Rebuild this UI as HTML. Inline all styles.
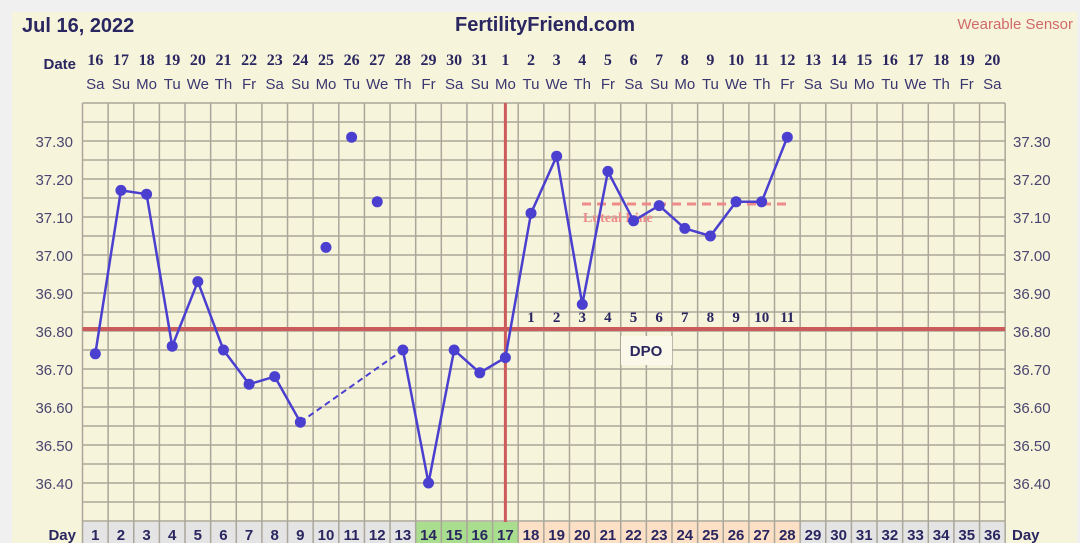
<!DOCTYPE html><html><head><style>body{margin:0;background:#f0f0f0}svg{display:block}</style></head><body>
<svg id="s" width="1080" height="543" xmlns="http://www.w3.org/2000/svg" font-family="Liberation Sans, sans-serif">
<rect x="12" y="12" width="1065" height="531" fill="#f7f4dc"/>
<text x="22" y="32" font-size="20" font-weight="bold" fill="#2a2660">Jul 16, 2022</text>
<text x="545" y="31" font-size="20" font-weight="bold" fill="#2a2660" text-anchor="middle">FertilityFriend.com</text>
<text x="1073" y="29" font-size="15" fill="#d06a6a" text-anchor="end">Wearable Sensor</text>
<text x="76" y="69" font-size="15" font-weight="bold" fill="#2a2660" text-anchor="end">Date</text>
<text x="76" y="540" font-size="15" font-weight="bold" fill="#2a2660" text-anchor="end">Day</text>
<text x="1012" y="540" font-size="15" font-weight="bold" fill="#2a2660">Day</text>
<g id="g"></g>
</svg>
<script>
var g=document.getElementById('g'),h='';
var L=82.5,W=25.63,T=103,R=19;
function cx(d){return L+(d-0.5)*W}
function ty(t){return 141+(37.30-t)*380}
var wd=['Sa','Su','Mo','Tu','We','Th','Fr'];
for(var d=1;d<=36;d++){
 var dt=d<=16?d+15:d-16;
 h+='<text x="'+cx(d)+'" y="65" font-size="16" font-weight="bold" font-family="Liberation Serif, serif" fill="#2a2660" text-anchor="middle">'+dt+'</text>';
 h+='<text x="'+cx(d)+'" y="89" font-size="15" fill="#3a3670" text-anchor="middle">'+wd[(d-1)%7]+'</text>';
 var c=d<=13?'#e4e4e4':d<=17?'#a9de8e':d<=28?'#fbe0c6':'#e4e4e4';
 h+='<rect x="'+(L+(d-1)*W)+'" y="522" width="'+W+'" height="21" fill="'+c+'"/>';
 h+='<text x="'+cx(d)+'" y="540" font-size="15" font-weight="bold" fill="#2a2660" text-anchor="middle">'+d+'</text>';
}
for(var i=0;i<=22;i++){var y=T+i*R;h+='<line x1="'+L+'" x2="'+(L+36*W)+'" y1="'+y+'" y2="'+y+'" stroke="#aaa69a" stroke-width="1.5"/>';}
for(var d=0;d<=36;d++){var x=L+d*W;h+='<line x1="'+x+'" x2="'+x+'" y1="'+T+'" y2="543" stroke="#aaa69a" stroke-width="1.5"/>';}
for(var i=0;i<=9;i++){var t=37.30-i*0.1,y=ty(t)+6;var s=t.toFixed(2);
 h+='<text x="73" y="'+y+'" font-size="15" fill="#4a4670" text-anchor="end">'+s+'</text>';
 h+='<text x="1013" y="'+y+'" font-size="15" fill="#4a4670">'+s+'</text>';}
h+='<line x1="'+L+'" x2="1005" y1="329" y2="329" stroke="#cc5c5c" stroke-width="4"/>';
h+='<line x1="'+cx(17)+'" x2="'+cx(17)+'" y1="103" y2="522" stroke="#cc5c5c" stroke-width="3"/>';
h+='<line x1="582" x2="786" y1="204" y2="204" stroke="#ee8a8a" stroke-width="3" stroke-dasharray="9,6"/>';
h+='<text x="583" y="222" font-size="14" font-weight="bold" font-family="Liberation Serif, serif" fill="#ee8a8a">Luteal Line</text>';
for(var k=1;k<=11;k++)h+='<text x="'+cx(17+k)+'" y="322" font-size="15" font-weight="bold" font-family="Liberation Serif, serif" fill="#2a2660" text-anchor="middle">'+k+'</text>';
h+='<rect x="621" y="336" width="51" height="29" fill="#faf8e8"/><text x="646" y="356" font-size="15" font-weight="bold" fill="#2a2660" text-anchor="middle">DPO</text>';
var D={1:36.74,2:37.17,3:37.16,4:36.76,5:36.93,6:36.75,7:36.66,8:36.68,9:36.56,10:37.02,11:37.31,12:37.14,13:36.75,14:36.40,15:36.75,16:36.69,17:36.73,18:37.11,19:37.26,20:36.87,21:37.22,22:37.09,23:37.13,24:37.07,25:37.05,26:37.14,27:37.14,28:37.31};
function seg(a,b){var p=[];for(var d=a;d<=b;d++)p.push(cx(d)+','+ty(D[d]));h+='<polyline points="'+p.join(' ')+'" fill="none" stroke="#4a3fcf" stroke-width="2.5"/>';}
seg(1,9);seg(13,28);
h+='<line x1="'+cx(9)+'" y1="'+ty(D[9])+'" x2="'+cx(13)+'" y2="'+ty(D[13])+'" stroke="#4a3fcf" stroke-width="2" stroke-dasharray="6,4"/>';
for(var d in D)h+='<circle cx="'+cx(+d)+'" cy="'+ty(D[d])+'" r="5.5" fill="#4a3fcf"/>';
g.innerHTML=h;
</script>
</body></html>
